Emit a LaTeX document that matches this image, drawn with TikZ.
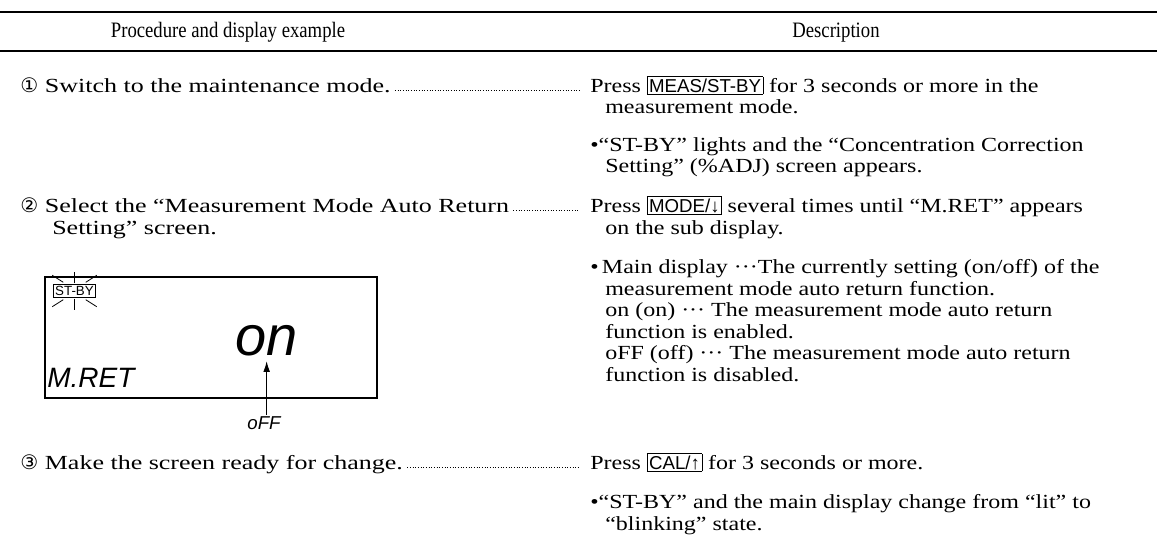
\documentclass[tikz,border=0pt]{standalone}
\usepackage{fontspec}
\setmainfont{Liberation Serif}[FakeStretch=1.2]
\newfontfamily\leftfont{Liberation Serif}[FakeStretch=1.3]
\newfontfamily\headfont{Liberation Serif}[FakeStretch=0.85]
\newfontfamily\keyfont{Liberation Sans}
\newfontfamily\circfont{DejaVu Sans}
\usetikzlibrary{arrows.meta}

\newcommand{\keybox}[1]{{\setlength{\fboxsep}{1.2pt}\fbox{\keyfont\fontsize{14}{14}\selectfont #1}}}
\newcommand{\stepno}[1]{{\circfont #1}\hspace{5pt}}

\begin{document}
\begin{tikzpicture}[
    x=0.75pt, y=-0.75pt,
    txt/.style={anchor=base west, inner sep=0pt, font=\fontsize{15}{16}\selectfont},
    ltxt/.style={txt, font=\leftfont\fontsize{15}{16}\selectfont},
    head/.style={anchor=base, inner sep=0pt, font=\headfont\fontsize{16.5}{17}\selectfont},
    rule/.style={line width=1.5pt},
    leader/.style={line width=0.8pt, dash pattern=on 0.5pt off 1.5pt},
    lcd/.style={inner sep=0pt, font=\keyfont\itshape},
    ray/.style={line width=0.6pt},
    arrow/.style={-{Latex[length=8pt, width=5pt]}},
    ]
        \useasboundingbox (0, 0) rectangle (1157, 553);

        % table head
        \draw[rule] (0, 12) -- (1157, 12);
        \node[head] (h1) at (228, 37) {Procedure and display example};
        \node[head] (h2) at (836, 37) {Description};
        \draw[rule] (0, 51) -- (1157, 51);

        % step 1
        \node[ltxt] (l1) at (20, 92) {\stepno{①}Switch to the maintenance mode.};
        \node[txt] (r1) at (590, 92) {Press \keybox{MEAS/ST-BY} for 3 seconds or more in the};
        \node[txt] (r1b) at (605, 113) {measurement mode.};
        \node[txt] (r1c) at (590, 151) {•“ST-BY” lights and the “Concentration Correction};
        \node[txt] (r1d) at (605, 172) {Setting” (\%ADJ) screen appears.};
        \draw[leader] ([xshift=3pt, yshift=1pt]l1.base east) -- ([xshift=-8pt, yshift=1pt]r1.base west);

        % step 2
        \node[ltxt] (l2) at (20, 212) {\stepno{②}Select the “Measurement Mode Auto Return};
        \node[ltxt] (l2b) at (52, 234) {Setting” screen.};
        \node[txt] (r2) at (590, 212) {Press \keybox{MODE/↓} several times until “M.RET” appears};
        \node[txt] (r2b) at (605, 234) {on the sub display.};
        \node[txt] (r2c) at (590, 273) {•\,Main display ···The currently setting (on/off) of the};
        \node[txt] (r2d) at (605, 295) {measurement mode auto return function.};
        \node[txt] (r2e) at (605, 316) {on (on) ··· The measurement mode auto return};
        \node[txt] (r2f) at (605, 338) {function is enabled.};
        \node[txt] (r2g) at (605, 359) {oFF (off) ··· The measurement mode auto return};
        \node[txt] (r2h) at (605, 381) {function is disabled.};
        \draw[leader] ([xshift=3pt, yshift=1pt]l2.base east) -- ([xshift=-8pt, yshift=1pt]r2.base west);

        % display
        \draw[line width=0.8pt] (45, 277) rectangle (377, 398);
        \node[draw, line width=0.6pt, inner sep=1.2pt, font=\keyfont\fontsize{10}{10}\selectfont] (stby) at (74.5, 291) {ST-BY};
        \draw[ray] (stby.north) ++(0, -1) -- ++(0, -11);
        \draw[ray] (stby.south) ++(0, 1) -- ++(0, 11);
        \draw[ray] (stby.north west) ++(10, -2) -- ++(-11, -7);
        \draw[ray] (stby.north east) ++(-10, -2) -- ++(11, -7);
        \draw[ray] (stby.south west) ++(10, 2) -- ++(-11, 7);
        \draw[ray] (stby.south east) ++(-10, 2) -- ++(11, 7);
        \node[lcd, anchor=base, font=\keyfont\itshape\fontsize{42}{42}\selectfont] (on) at (267, 355) {on};
        \node[lcd, anchor=base west, font=\keyfont\itshape\fontsize{21}{21}\selectfont] (mret) at (47, 387) {M.RET};
        \node[lcd, anchor=base, font=\keyfont\itshape\fontsize{14}{14}\selectfont] (off) at (264, 429) {oFF};
        \draw[arrow, line width=0.8pt] ([xshift=2pt, yshift=1pt]off.north) -- ([xshift=2pt, yshift=-4pt]off.north |- on.south);

        % step 3
        \node[ltxt] (l3) at (20, 469) {\stepno{③}Make the screen ready for change.};
        \node[txt] (r3) at (590, 469) {Press \keybox{CAL/↑} for 3 seconds or more.};
        \node[txt] (r3b) at (590, 508) {•“ST-BY” and the main display change from “lit” to};
        \node[txt] (r3c) at (605, 530) {“blinking” state.};
        \draw[leader] ([xshift=3pt, yshift=1pt]l3.base east) -- ([xshift=-8pt, yshift=1pt]r3.base west);
\end{tikzpicture}
\end{document}
